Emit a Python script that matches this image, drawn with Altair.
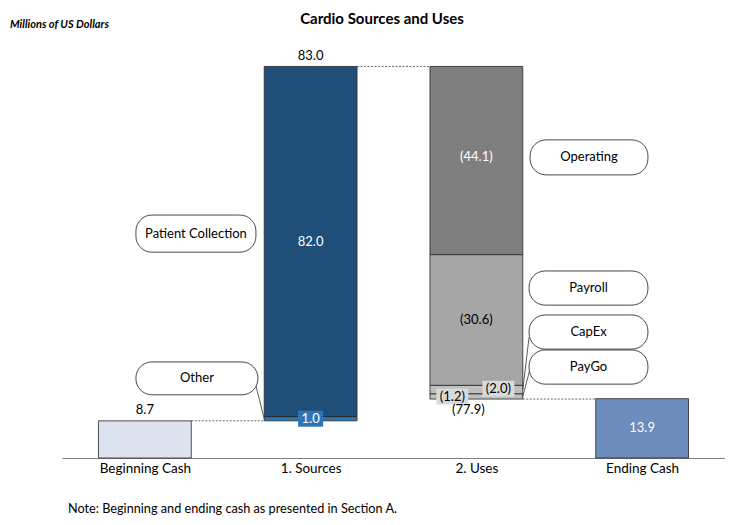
import altair as alt
import pandas as pd

# ---------------- data ----------------
categories = ["Beginning Cash", "1. Sources", "2. Uses", "Ending Cash"]
beginning_cash = 8.7
source_items = ["Other", "Patient Collection"]
source_values = [1.0, 82.0]
use_items = ["Operating", "Payroll", "CapEx", "PayGo"]
use_values = [44.1, 30.6, 2.0, 1.2]
ending_cash = 13.9
sources_total_text = "83.0"
uses_total_text = "(77.9)"
title_text = "Cardio Sources and Uses"
subtitle_text = "Millions of US Dollars"
note_text = "Note: Beginning and ending cash as presented in Section A."

# ---------------- layout / style ----------------
FONT = "Lato"
W, H = 663, 427
XDOM = [-0.5, 3.5]
YDOM = [0, 100]
PXX = W / (XDOM[1] - XDOM[0])
PXY = H / (YDOM[1] - YDOM[0])
HALF = 0.28

fills = {
    "Beginning Cash": "#dce3ee",
    "Other": "#2e75b6",
    "Patient Collection": "#1f4e79",
    "Operating": "#7f7f7f",
    "Payroll": "#a6a6a6",
    "CapEx": "#bfbfbf",
    "PayGo": "#bfbfbf",
    "Ending Cash": "#6b8cbd",
}

# ---------------- build segments ----------------
segs = []
segs.append(dict(name="Beginning Cash", pos=0, y0=0, y1=beginning_cash))
level = beginning_cash
for it, v in zip(source_items, source_values):
    segs.append(dict(name=it, pos=1, y0=level, y1=level + v))
    level += v
top_level = level
for it, v in zip(use_items, use_values):
    segs.append(dict(name=it, pos=2, y0=level, y1=level - v))
    level -= v
uses_bottom = level
segs.append(dict(name="Ending Cash", pos=3, y0=0, y1=ending_cash))
for s in segs:
    s["xa"] = s["pos"] - HALF
    s["xb"] = s["pos"] + HALF
    s["fill"] = fills[s["name"]]
    s["mid"] = (s["y0"] + s["y1"]) / 2
seg_df = pd.DataFrame(segs)
segd = {s["name"]: s for s in segs}

# connectors (dotted)
conn_df = pd.DataFrame([
    dict(xa=0 + HALF, xb=1 - HALF, y=beginning_cash),
    dict(xa=1 + HALF, xb=2 - HALF, y=top_level),
    dict(xa=2 + HALF, xb=3 - HALF, y=uses_bottom),
])


def px2x(p):
    return p / PXX


def px2y(p):
    return p / PXY


labels = [
    dict(t=f"{beginning_cash:.1f}", x=0, y=beginning_cash + px2y(11), c="black", bg=None),
    dict(t=sources_total_text, x=1, y=top_level + px2y(10), c="black", bg=None),
    dict(t=f"{source_values[1]:.1f}", x=1, y=segd["Patient Collection"]["mid"], c="white", bg=None),
    dict(t=f"{source_values[0]:.1f}", x=1, y=segd["Other"]["mid"], c="white", bg="#2e75b6"),
    dict(t=f"({use_values[0]:.1f})", x=2, y=segd["Operating"]["mid"] + px2y(4), c="white", bg=None),
    dict(t=f"({use_values[1]:.1f})", x=2, y=segd["Payroll"]["mid"], c="black", bg=None),
    dict(t=f"({use_values[2]:.1f})", x=2 + px2x(22), y=segd["CapEx"]["mid"] + px2y(1), c="black", bg="#d9d9d9"),
    dict(t=f"({use_values[3]:.1f})", x=2 - px2x(24), y=segd["PayGo"]["mid"], c="black", bg="#d9d9d9"),
    dict(t=uses_total_text, x=2 - px2x(8), y=uses_bottom - px2y(11), c="black", bg=None),
    dict(t=f"{ending_cash:.1f}", x=3, y=ending_cash / 2, c="white", bg=None),
]
lab_df = pd.DataFrame(labels)
bg_rows = []
for l in labels:
    if l["bg"]:
        w = 25 if l["bg"] == "#2e75b6" else 32
        h = 16
        bg_rows.append(dict(xa=l["x"] - px2x(w / 2), xb=l["x"] + px2x(w / 2),
                            ya=l["y"] - px2y(h / 2), yb=l["y"] + px2y(h / 2), fill=l["bg"]))
bg_df = pd.DataFrame(bg_rows)

# callouts (layout positions in axis units)
callouts = [
    dict(t="Patient Collection", xa=-0.054, xb=0.670, ya=48.2, yb=56.9),
    dict(t="Other", xa=-0.054, xb=0.682, ya=14.8, yb=22.5),
    dict(t="Operating", xa=2.324, xb=3.035, ya=66.3, yb=74.5),
    dict(t="Payroll", xa=2.318, xb=3.035, ya=35.8, yb=43.8),
    dict(t="CapEx", xa=2.318, xb=3.035, ya=25.5, yb=33.5),
    dict(t="PayGo", xa=2.318, xb=3.035, ya=17.3, yb=25.3),
]
for c in callouts:
    c["xm"] = (c["xa"] + c["xb"]) / 2
    c["ym"] = (c["ya"] + c["yb"]) / 2
call_df = pd.DataFrame(callouts)

leaders = pd.DataFrame([
    dict(xa=0.670, ya=16.9, xb=1 - HALF, yb=segd["Other"]["mid"]),
    dict(xa=2.318, ya=28.3, xb=2 + HALF, yb=segd["CapEx"]["mid"]),
    dict(xa=2.322, ya=20.6, xb=2 + HALF, yb=segd["PayGo"]["mid"]),
])

# ---------------- chart ----------------
label_expr = "[" + ",".join(f"'{c}'" for c in categories) + "][datum.value]"
xscale = alt.Scale(domain=XDOM, nice=False, zero=False)
yscale = alt.Scale(domain=YDOM, nice=False, zero=False)

X = lambda f: alt.X(f, type="quantitative", scale=xscale,
                    axis=alt.Axis(values=[0, 1, 2, 3], labelExpr=label_expr, ticks=False,
                                  grid=False, domainColor="#808080", labelColor="black",
                                  labelFont=FONT, labelFontSize=13.5, labelPadding=3,
                                  title=None))
Y = lambda f: alt.Y(f, type="quantitative", scale=yscale, axis=None)

bars = alt.Chart(seg_df).mark_rect(stroke="#262626", strokeWidth=0.8).encode(
    x=X("xa"), x2="xb", y=Y("y0"), y2="y1", fill=alt.Fill("fill:N", scale=None))

conns = alt.Chart(conn_df).mark_rule(strokeDash=[2, 1.5], color="#666666", strokeWidth=1).encode(
    x=X("xa"), x2="xb", y=Y("y"))

lead = alt.Chart(leaders).mark_rule(color="#333333", strokeWidth=0.8).encode(
    x=X("xa"), x2="xb", y=Y("ya"), y2="yb")

boxes = alt.Chart(call_df).mark_rect(cornerRadius=16, fill="white", stroke="#333333",
                                     strokeWidth=0.9).encode(
    x=X("xa"), x2="xb", y=Y("ya"), y2="yb")

box_text = alt.Chart(call_df).mark_text(font=FONT, fontSize=13, color="black",
                                        baseline="middle").encode(
    x=X("xm"), y=Y("ym"), text="t:N")

bgs = alt.Chart(bg_df).mark_rect().encode(
    x=X("xa"), x2="xb", y=Y("ya"), y2="yb", fill=alt.Fill("fill:N", scale=None))

vals = alt.Chart(lab_df).mark_text(font=FONT, fontSize=13, baseline="middle").encode(
    x=X("x"), y=Y("y"), text="t:N", color=alt.Color("c:N", scale=None))

one = lambda s: pd.DataFrame({"t": [s]})
title = alt.Chart(one(title_text)).mark_text(font=FONT, fontSize=15, fontWeight="bold",
                                             color="black", align="center",
                                             baseline="middle").encode(
    x=alt.value(320), y=alt.value(-12), text="t:N")
subtitle = alt.Chart(one(subtitle_text)).mark_text(font=FONT, fontSize=11, fontWeight="bold",
                                                   fontStyle="italic", color="black",
                                                   align="left", baseline="middle").encode(
    x=alt.value(-52), y=alt.value(-6), text="t:N")
note = alt.Chart(one(note_text)).mark_text(font=FONT, fontSize=12.7, color="black",
                                           align="left", baseline="middle").encode(
    x=alt.value(6), y=alt.value(478), text="t:N")

chart = alt.layer(bars, conns, lead, boxes, box_text, bgs, vals, title, subtitle, note).properties(
    width=W, height=H,
    autosize=alt.AutoSizeParams(type="none"),
    padding={"left": 54, "top": 23, "right": 0, "bottom": 59},
).configure_view(stroke=None)

chart.save("out.html", embed_options={"renderer": "svg", "actions": False})
